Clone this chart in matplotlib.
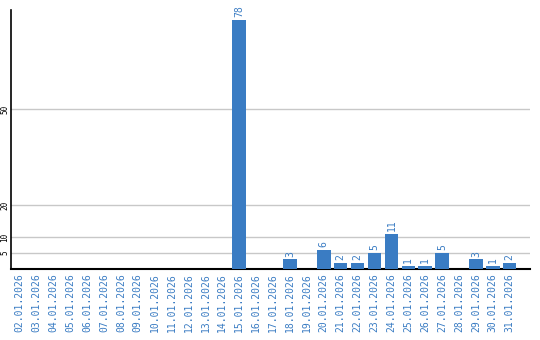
import numpy as np
import matplotlib
matplotlib.use('Agg')
import matplotlib.pyplot as plt

dates = ['%02d.01.2026' % d for d in range(2, 32)]
counts = [0, 0, 0, 0, 0, 0, 0, 0, 0, 0, 0, 0, 0, 78, 0, 0, 3, 0, 6, 2, 2, 5, 11, 1, 1, 5, 0, 3, 1, 2]
yticks = [5, 10, 20, 50]

blue = '#3a7cc3'

fig = plt.figure(figsize=(5.4, 3.4), dpi=100)
ax = fig.add_axes([11 / 540, 1 - 269 / 340, 519 / 540, 259 / 340])

x = np.arange(len(dates))
ax.bar(x, counts, width=0.8, color=blue, zorder=3)

for xi, v in zip(x, counts):
    if v > 0:
        ax.text(xi, v + 0.8, str(v), rotation=90, ha='center', va='bottom',
                color=blue, fontsize=7, family='DejaVu Sans Mono')

ax.set_xlim(-0.5, 30.2)
ax.set_ylim(0, 81)
ax.set_yticks(yticks)
ax.set_yticklabels([str(t) for t in yticks], rotation=90, va='center',
                   fontsize=5.5, family='DejaVu Sans Mono')
ax.yaxis.grid(True, color='#c8c8c8', linewidth=1, zorder=0)
ax.tick_params(axis='y', length=0, pad=1)

ax.set_xticks(x)
ax.set_xticklabels(dates, rotation=90, fontsize=7, color=blue, family='DejaVu Sans Mono')
ax.tick_params(axis='x', length=0, pad=3)

ax.spines['top'].set_visible(False)
ax.spines['right'].set_visible(False)
ax.spines['left'].set_color('black')
ax.spines['bottom'].set_color('black')
ax.spines['left'].set_linewidth(1.2)
ax.spines['bottom'].set_linewidth(1.5)

fig.savefig('out.png', dpi=100)
